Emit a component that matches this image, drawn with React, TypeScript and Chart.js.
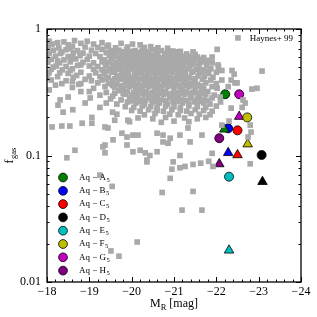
import React, { useEffect, useRef } from 'react';
import { Chart, registerables } from 'chart.js';

Chart.register(...registerables);

// ---- data ----
const galaxyNames = ['A', 'B', 'C', 'D', 'E', 'F', 'G', 'H'];
const galaxyColors = ['#008000', '#0000ff', '#ff0000', '#000000', '#00bfbf', '#bfbf00', '#bf00bf', '#800080'];
const circleMag = [-22.21, -22.28, -22.5, -23.07, -22.3, -22.73, -22.54, -22.07];
const circleFgas = [0.305, 0.164, 0.158, 0.101, 0.068, 0.2, 0.305, 0.137];
const triangleMag = [-22.19, -22.28, -22.5, -23.09, -22.3, -22.74, -22.54, -22.07];
const triangleFgas = [0.161, 0.105, 0.101, 0.062, 0.0178, 0.123, 0.203, 0.0857];

const xTickValues = [-24, -23, -22, -21, -20, -19, -18];
const xTickLabels = ['\u221224', '\u221223', '\u221222', '\u221221', '\u221220', '\u221219', '\u221218'];
const yTickValues = [0.01, 0.1, 1];
const yTickLabels = ['0.01', '0.1', '1'];

const haynesLabel = 'Haynes+ 99';

// Haynes+99 sample [M_R, f_gas]
const haynesPoints: number[][] = [
  [-18.05,0.80],[-18.4,0.79],[-18.65,0.81],[-18.95,0.80],[-19.3,0.78],
  [-18.12,0.76],[-18.5,0.75],[-18.8,0.77],[-19.1,0.76],[-19.45,0.745],[-19.75,0.77],[-20.02,0.76],[-20.2,0.75],
  [-18.02,0.72],[-18.28,0.71],[-18.6,0.73],[-18.9,0.72],[-19.2,0.715],[-19.42,0.725],[-19.62,0.71],[-19.9,0.72],[-20.3,0.715],[-20.45,0.725],[-20.62,0.71],[-20.85,0.705],
  [-18.15,0.68],[-18.45,0.685],[-18.72,0.675],[-19.05,0.68],[-19.3,0.69],[-19.52,0.675],[-19.7,0.68],[-19.88,0.685],[-20.08,0.675],[-20.25,0.68],[-20.5,0.685],[-20.7,0.675],[-20.97,0.67],[-21.15,0.665],
  [-18.05,0.645],[-18.32,0.64],[-18.62,0.65],[-18.85,0.645],[-19.15,0.64],[-19.4,0.65],[-19.58,0.645],[-19.75,0.64],[-19.92,0.65],[-20.1,0.645],[-20.25,0.64],[-20.4,0.65],[-20.58,0.645],[-20.78,0.64],[-20.92,0.65],[-21.08,0.64],[-21.3,0.635],[-21.5,0.63],
  [-18.2,0.61],[-18.5,0.605],[-18.78,0.615],[-19.0,0.61],[-19.25,0.605],[-19.47,0.615],[-19.62,0.61],[-19.82,0.605],[-19.97,0.615],[-20.12,0.61],[-20.32,0.605],[-20.47,0.615],[-20.62,0.61],[-20.82,0.605],[-21.0,0.615],[-21.18,0.61],[-21.35,0.605],[-21.55,0.6],[-21.7,0.595],
  [-18.1,0.575],[-18.4,0.57],[-18.68,0.58],[-18.95,0.575],[-19.35,0.57],[-19.52,0.58],[-19.7,0.575],[-19.87,0.57],[-20.02,0.58],[-20.17,0.575],[-20.3,0.57],[-20.43,0.58],[-20.57,0.575],[-20.72,0.57],[-20.88,0.58],[-21.05,0.575],[-21.22,0.57],[-21.42,0.58],[-21.6,0.575],[-21.78,0.565],
  [-18.02,0.545],[-18.3,0.54],[-18.55,0.55],[-18.85,0.545],[-19.1,0.54],[-19.3,0.55],[-19.45,0.545],[-19.65,0.54],[-19.8,0.55],[-19.95,0.545],[-20.1,0.54],[-20.22,0.55],[-20.37,0.545],[-20.52,0.54],[-20.67,0.55],[-20.82,0.545],[-20.97,0.54],[-21.12,0.55],[-21.32,0.545],[-21.47,0.54],[-21.67,0.55],[-21.9,0.54],
  [-18.22,0.51],[-18.45,0.505],[-18.72,0.515],[-19.0,0.51],[-19.2,0.505],[-19.4,0.515],[-19.6,0.51],[-19.75,0.505],[-19.9,0.515],[-20.05,0.51],[-20.2,0.505],[-20.32,0.515],[-20.47,0.51],[-20.62,0.505],[-20.77,0.515],[-20.92,0.51],[-21.07,0.505],[-21.22,0.515],[-21.37,0.51],[-21.57,0.505],[-21.77,0.515],[-22.05,0.5],
  [-18.1,0.48],[-18.36,0.475],[-18.6,0.485],[-19.1,0.48],[-19.3,0.475],[-19.5,0.485],[-19.7,0.48],[-19.85,0.475],[-20.0,0.485],[-20.15,0.48],[-20.3,0.475],[-20.42,0.485],[-20.57,0.48],[-20.72,0.475],[-20.87,0.485],[-21.02,0.48],[-21.17,0.475],[-21.32,0.485],[-21.52,0.48],[-21.67,0.475],[-21.87,0.485],
  [-18.05,0.45],[-18.5,0.445],[-18.8,0.455],[-19.15,0.45],[-19.35,0.445],[-19.55,0.455],[-19.77,0.45],[-19.92,0.445],[-20.07,0.455],[-20.22,0.45],[-20.37,0.445],[-20.52,0.455],[-20.67,0.45],[-20.82,0.445],[-20.97,0.455],[-21.12,0.45],[-21.27,0.445],[-21.42,0.455],[-21.62,0.45],[-21.82,0.445],[-22.0,0.455],
  [-18.25,0.42],[-18.62,0.415],[-19.0,0.425],[-19.25,0.42],[-19.45,0.415],[-19.65,0.425],[-19.82,0.42],[-20.0,0.415],[-20.12,0.425],[-20.27,0.42],[-20.42,0.415],[-20.57,0.425],[-20.72,0.42],[-20.92,0.415],[-21.07,0.425],[-21.22,0.42],[-21.37,0.415],[-21.57,0.425],[-21.72,0.42],[-21.92,0.415],
  [-18.1,0.395],[-18.45,0.39],[-18.9,0.40],[-19.3,0.395],[-19.55,0.39],[-19.72,0.40],[-19.9,0.395],[-20.05,0.39],[-20.2,0.40],[-20.35,0.395],[-20.5,0.39],[-20.65,0.40],[-20.8,0.395],[-20.95,0.39],[-21.1,0.40],[-21.3,0.395],[-21.47,0.39],[-21.67,0.40],[-21.87,0.395],
  [-18.35,0.37],[-18.75,0.365],[-19.2,0.375],[-19.45,0.37],[-19.65,0.365],[-19.85,0.375],[-20.0,0.37],[-20.15,0.365],[-20.3,0.375],[-20.45,0.37],[-20.6,0.365],[-20.75,0.375],[-20.9,0.37],[-21.05,0.365],[-21.2,0.375],[-21.4,0.37],[-21.55,0.365],[-21.75,0.375],[-22.0,0.37],
  [-18.6,0.345],[-19.1,0.34],[-19.37,0.35],[-19.6,0.345],[-19.8,0.34],[-19.95,0.35],[-20.1,0.345],[-20.25,0.34],[-20.4,0.35],[-20.55,0.345],[-20.7,0.34],[-20.85,0.35],[-21.0,0.345],[-21.2,0.34],[-21.35,0.35],[-21.5,0.345],[-21.7,0.34],[-21.9,0.35],
  [-19.0,0.32],[-19.4,0.315],[-19.7,0.325],[-19.9,0.32],[-20.05,0.315],[-20.2,0.325],[-20.35,0.32],[-20.5,0.315],[-20.65,0.325],[-20.8,0.32],[-21.0,0.315],[-21.15,0.325],[-21.3,0.32],[-21.45,0.315],[-21.65,0.325],[-21.8,0.32],
  [-19.25,0.30],[-19.55,0.295],[-19.85,0.305],[-20.0,0.30],[-20.15,0.295],[-20.3,0.305],[-20.45,0.30],[-20.6,0.295],[-20.75,0.305],[-20.95,0.30],[-21.1,0.295],[-21.25,0.305],[-21.4,0.30],[-21.6,0.295],[-21.75,0.305],[-21.95,0.30],
  [-19.5,0.28],[-19.75,0.275],[-19.95,0.285],[-20.1,0.28],[-20.25,0.275],[-20.4,0.285],[-20.55,0.28],[-20.7,0.275],[-20.9,0.285],[-21.05,0.28],[-21.2,0.275],[-21.4,0.285],[-21.55,0.28],[-21.7,0.275],[-21.9,0.285],
  [-19.4,0.26],[-19.65,0.255],[-19.9,0.265],[-20.1,0.26],[-20.3,0.255],[-20.5,0.265],[-20.65,0.26],[-20.85,0.255],[-21.0,0.265],[-21.2,0.26],[-21.35,0.255],[-21.5,0.265],[-21.7,0.26],[-21.85,0.255],[-22.1,0.265],
  [-19.85,0.243],[-20.05,0.24],[-20.25,0.246],[-20.45,0.243],[-20.6,0.24],[-20.8,0.246],[-21.0,0.243],[-21.15,0.24],[-21.35,0.246],[-21.55,0.243],[-21.75,0.24],[-22.0,0.246],
  [-20.0,0.227],[-20.2,0.224],[-20.4,0.23],[-20.6,0.227],[-20.75,0.224],[-20.95,0.23],[-21.15,0.227],[-21.3,0.224],[-21.5,0.23],[-21.7,0.227],[-21.9,0.224],
  [-19.65,0.212],[-20.3,0.21],[-20.55,0.215],[-20.9,0.212],[-21.1,0.21],[-21.4,0.215],[-21.6,0.212],[-21.85,0.21],
  [-20.15,0.198],[-20.5,0.195],[-20.8,0.2],[-21.25,0.198],[-21.55,0.195],[-21.75,0.2],
  [-19.95,0.185],[-20.7,0.183],[-21.0,0.187],[-21.35,0.185],
  // dense core, in-between values
  [-19.6,0.66],[-19.8,0.66],[-20.0,0.665],[-20.18,0.655],[-20.35,0.66],[-20.6,0.665],[-20.85,0.655],[-21.05,0.66],
  [-19.55,0.592],[-19.72,0.588],[-19.9,0.595],[-20.05,0.59],[-20.22,0.592],[-20.4,0.588],[-20.55,0.595],[-20.72,0.59],[-20.92,0.592],[-21.1,0.588],[-21.28,0.595],[-21.45,0.59],
  [-19.38,0.528],[-19.55,0.525],[-19.72,0.53],[-19.88,0.528],[-20.02,0.525],[-20.15,0.53],[-20.28,0.528],[-20.42,0.525],[-20.58,0.53],[-20.72,0.528],[-20.88,0.525],[-21.02,0.53],[-21.17,0.528],[-21.42,0.525],[-21.6,0.53],
  [-19.42,0.465],[-19.6,0.462],[-19.78,0.468],[-19.92,0.465],[-20.08,0.462],[-20.22,0.468],[-20.37,0.465],[-20.5,0.462],[-20.65,0.468],[-20.8,0.465],[-20.95,0.462],[-21.1,0.468],[-21.25,0.465],[-21.45,0.462],[-21.6,0.468],[-21.75,0.465],
  [-19.4,0.407],[-19.6,0.404],[-19.78,0.41],[-19.95,0.407],[-20.1,0.404],[-20.3,0.41],[-20.45,0.407],[-20.6,0.404],[-20.75,0.41],[-20.88,0.407],[-21.02,0.404],[-21.17,0.41],[-21.32,0.407],[-21.5,0.404],
  [-19.55,0.357],[-19.75,0.355],[-19.92,0.36],[-20.08,0.357],[-20.22,0.355],[-20.38,0.36],[-20.52,0.357],[-20.68,0.355],[-20.82,0.36],[-20.98,0.357],[-21.12,0.355],[-21.28,0.36],[-21.45,0.357],[-21.62,0.355],
  [-19.6,0.31],[-19.8,0.308],[-20.12,0.312],[-20.28,0.31],[-20.42,0.308],[-20.58,0.312],[-20.72,0.31],[-20.88,0.308],[-21.05,0.312],[-21.22,0.31],[-21.38,0.308],[-21.55,0.312],[-21.7,0.31],
  [-20.0,0.27],[-20.18,0.268],[-20.33,0.272],[-20.48,0.27],[-20.62,0.268],[-20.8,0.272],[-20.98,0.27],[-21.12,0.268],[-21.3,0.272],[-21.48,0.27],[-21.62,0.268],[-21.8,0.272],
  // extra faint-end band
  [-18.25,0.78],[-18.55,0.70],[-18.35,0.66],[-18.0,0.6],[-18.6,0.6],[-18.25,0.56],[-18.8,0.52],[-18.15,0.5],
  [-18.55,0.47],[-18.3,0.45],[-18.7,0.43],[-18.0,0.41],[-18.8,0.37],[-19.05,0.39],[-18.6,0.385],[-18.2,0.36],
  // outliers, bright end
  [-22.51,0.85],[-22.02,0.69],[-23.08,0.465],[-22.96,0.34],[-22.84,0.335],[-22.37,0.47],[-22.42,0.44],[-22.49,0.375],
  [-22.35,0.395],[-22.63,0.275],[-22.61,0.24],[-22.35,0.237],[-22.3,0.187],[-22.8,0.174],[-22.82,0.153],[-22.75,0.14],
  [-22.13,0.174],[-22.28,0.35],[-22.02,0.34],[-22.09,0.29],[-22.68,0.26],[-22.04,0.52],[-22.13,0.47],[-22.13,0.395],
  [-22.44,0.375],[-21.9,0.6],[-21.45,0.66],
  // outliers, low gas fraction
  [-20.03,0.145],[-20.15,0.145],[-20.6,0.15],[-20.74,0.145],[-20.91,0.137],[-21.14,0.145],[-21.33,0.165],[-21.66,0.145],
  [-21.38,0.128],[-20.74,0.128],[-20.86,0.125],[-20.03,0.107],[-20.2,0.11],[-20.32,0.105],[-20.43,0.1],[-20.6,0.107],
  [-20.36,0.089],[-21.14,0.1],[-20.98,0.089],[-21.14,0.08],[-21.26,0.082],[-21.45,0.085],[-21.63,0.087],[-21.82,0.09],
  [-21.9,0.104],[-20.91,0.066],[-20.95,0.078],[-21.92,0.082],[-22.8,0.086],[-20.72,0.051],[-21.45,0.052],[-21.19,0.037],
  [-21.66,0.037],[-19.25,0.07],[-19.54,0.057],[-20.13,0.0207],[-19.51,0.0176],[-19.7,0.016],[-20.36,0.092],
  // outliers, faint end
  [-18.31,0.275],[-18.5,0.29],[-19.02,0.285],[-18.26,0.25],[-18.38,0.22],[-18.61,0.23],[-18.12,0.168],[-18.35,0.171],
  [-18.54,0.171],[-18.83,0.18],[-19.06,0.18],[-19.37,0.168],[-19.44,0.165],[-19.91,0.19],[-19.77,0.15],[-19.89,0.14],
  [-19.56,0.133],[-19.37,0.121],[-19.89,0.121],[-18.66,0.11],[-19.37,0.105],[-18.47,0.096],[-19.06,0.2],[-18.05,0.33],
  [-18.8,0.32],[-19.55,0.22],[-19.25,0.24],[-18.9,0.26],[-19.6,0.19],[-19.32,0.117],
];

const FONT = "'Liberation Serif', 'DejaVu Serif', serif";

function isMajorX(v: number) {
  return xTickValues.some((t) => Math.abs(t - v) < 1e-6);
}

const decorPlugin = {
  id: 'decor',
  afterDraw(chart: any) {
    const { ctx, chartArea: a, scales } = chart;
    const xs = scales.x;
    const ys = scales.y;
    ctx.save();
    ctx.strokeStyle = '#000';
    ctx.lineWidth = 1;
    const line = (x1: number, y1: number, x2: number, y2: number) => {
      ctx.beginPath();
      ctx.moveTo(x1, y1);
      ctx.lineTo(x2, y2);
      ctx.stroke();
    };
    for (let k = 0; k <= 30; k++) {
      const v = -24 + k * 0.2;
      const L = isMajorX(v) ? 5 : 2.5;
      const px = Math.round(xs.getPixelForValue(v)) + 0.5;
      line(px, a.bottom, px, a.bottom - L);
      line(px, a.top, px, a.top + L);
    }
    for (let e = -2; e <= 0; e++) {
      for (let m = 1; m <= 9; m++) {
        const v = m * Math.pow(10, e);
        if (v > 1.0001) break;
        const L = m === 1 ? 5 : 2.5;
        const py = Math.round(ys.getPixelForValue(v)) + 0.5;
        line(a.left, py, a.left + L, py);
        line(a.right, py, a.right - L, py);
      }
    }
    ctx.lineWidth = 1.3;
    ctx.strokeRect(a.left, a.top, a.right - a.left, a.bottom - a.top);

    ctx.fillStyle = '#000';
    ctx.font = `9px ${FONT}`;
    ctx.textAlign = 'right';
    ctx.textBaseline = 'middle';
    ctx.fillText(haynesLabel, a.right - 8, a.top + 10);

    ctx.textAlign = 'left';
    galaxyNames.forEach((g, i) => {
      const cy = a.top + 148.5 + i * 13.3;
      const cx = a.left + 16;
      ctx.beginPath();
      ctx.arc(cx, cy, 4.4, 0, Math.PI * 2);
      ctx.fillStyle = galaxyColors[i];
      ctx.fill();
      ctx.lineWidth = 0.8;
      ctx.strokeStyle = '#000';
      ctx.stroke();
      ctx.fillStyle = '#000';
      ctx.font = `9px ${FONT}`;
      const main = `Aq \u2212 ${g}`;
      const tx = a.left + 32;
      ctx.fillText(main, tx, cy);
      const w = ctx.measureText(main).width;
      ctx.font = `6.5px ${FONT}`;
      ctx.fillText('5', tx + w + 0.5, cy + 2.5);
    });

    ctx.textBaseline = 'alphabetic';
    ctx.font = `12px ${FONT}`;
    const wM = ctx.measureText('M').width;
    const wRest = ctx.measureText(' [mag]').width;
    ctx.font = `8.5px ${FONT}`;
    const wR = ctx.measureText('R').width;
    const total = wM + wR + wRest;
    const x0 = (a.left + a.right) / 2 - total / 2;
    const by = a.bottom + 25;
    ctx.font = `12px ${FONT}`;
    ctx.fillText('M', x0, by);
    ctx.font = `8.5px ${FONT}`;
    ctx.fillText('R', x0 + wM, by + 2.5);
    ctx.font = `12px ${FONT}`;
    ctx.fillText(' [mag]', x0 + wM + wR, by);

    ctx.save();
    const cyT = (a.top + a.bottom) / 2;
    ctx.translate(13, cyT);
    ctx.rotate(-Math.PI / 2);
    ctx.font = `12px ${FONT}`;
    const wf = ctx.measureText('f').width;
    ctx.font = `8.5px ${FONT}`;
    const wg = ctx.measureText('gas').width;
    const t0 = -(wf + wg + 0.5) / 2;
    ctx.font = `12px ${FONT}`;
    ctx.fillText('f', t0, 0);
    ctx.font = `8.5px ${FONT}`;
    ctx.fillText('gas', t0 + wf + 0.5, 2.5);
    ctx.restore();

    ctx.restore();
  },
};

export default function App() {
  const ref = useRef<HTMLCanvasElement | null>(null);

  useEffect(() => {
    if (!ref.current) return;
    const datasets: any[] = [
      {
        label: haynesLabel,
        data: haynesPoints.map((p) => ({ x: p[0], y: p[1] })),
        pointStyle: 'rect',
        pointRadius: 4,
        backgroundColor: '#a9a9a9',
        borderWidth: 0,
        showLine: false,
      },
    ];
    galaxyNames.forEach((g, i) => {
      datasets.push({
        label: `Aq-${g}5 circle`,
        data: [{ x: circleMag[i], y: circleFgas[i] }],
        pointStyle: 'circle',
        pointRadius: 4.5,
        backgroundColor: galaxyColors[i],
        borderColor: '#000',
        borderWidth: 0.8,
        showLine: false,
      });
      datasets.push({
        label: `Aq-${g}5 triangle`,
        data: [{ x: triangleMag[i], y: triangleFgas[i] }],
        pointStyle: 'triangle',
        pointRadius: 5.5,
        backgroundColor: galaxyColors[i],
        borderColor: '#000',
        borderWidth: 0.8,
        showLine: false,
      });
    });

    const chart = new Chart(ref.current, {
      type: 'scatter',
      data: { datasets },
      options: {
        animation: false,
        responsive: false,
        events: [],
        layout: { padding: { left: 0, right: 16, top: 29, bottom: 0 } },
        plugins: { legend: { display: false }, tooltip: { enabled: false }, title: { display: false } },
        scales: {
          x: {
            type: 'linear',
            min: -24,
            max: -18,
            reverse: true,
            grid: { display: false, drawTicks: false },
            border: { display: false },
            afterBuildTicks: (s: any) => {
              s.ticks = xTickValues.map((v) => ({ value: v }));
            },
            afterFit: (s: any) => {
              s.height = 35;
            },
            ticks: {
              autoSkip: false,
              maxRotation: 0,
              padding: 3,
              color: '#000',
              font: { family: FONT, size: 12 },
              callback: (v: any) => {
                const i = xTickValues.findIndex((t) => Math.abs(t - Number(v)) < 1e-6);
                return i >= 0 ? xTickLabels[i] : '';
              },
            },
          },
          y: {
            type: 'logarithmic',
            min: 0.01,
            max: 1,
            grid: { display: false, drawTicks: false },
            border: { display: false },
            afterBuildTicks: (s: any) => {
              s.ticks = yTickValues.map((v) => ({ value: v }));
            },
            afterFit: (s: any) => {
              s.width = 47;
            },
            ticks: {
              autoSkip: false,
              padding: 6,
              color: '#000',
              font: { family: FONT, size: 12 },
              callback: (v: any) => {
                const i = yTickValues.findIndex((t) => Math.abs(t - Number(v)) < 1e-9);
                return i >= 0 ? yTickLabels[i] : '';
              },
            },
          },
        },
      },
      plugins: [decorPlugin],
    });
    return () => chart.destroy();
  }, []);

  return (
    <div style={{ position: 'absolute', left: 0, top: 0, width: 317, height: 317, background: '#fff' }}>
      <canvas ref={ref} width={317} height={317} style={{ width: 317, height: 317 }} />
    </div>
  );
}
